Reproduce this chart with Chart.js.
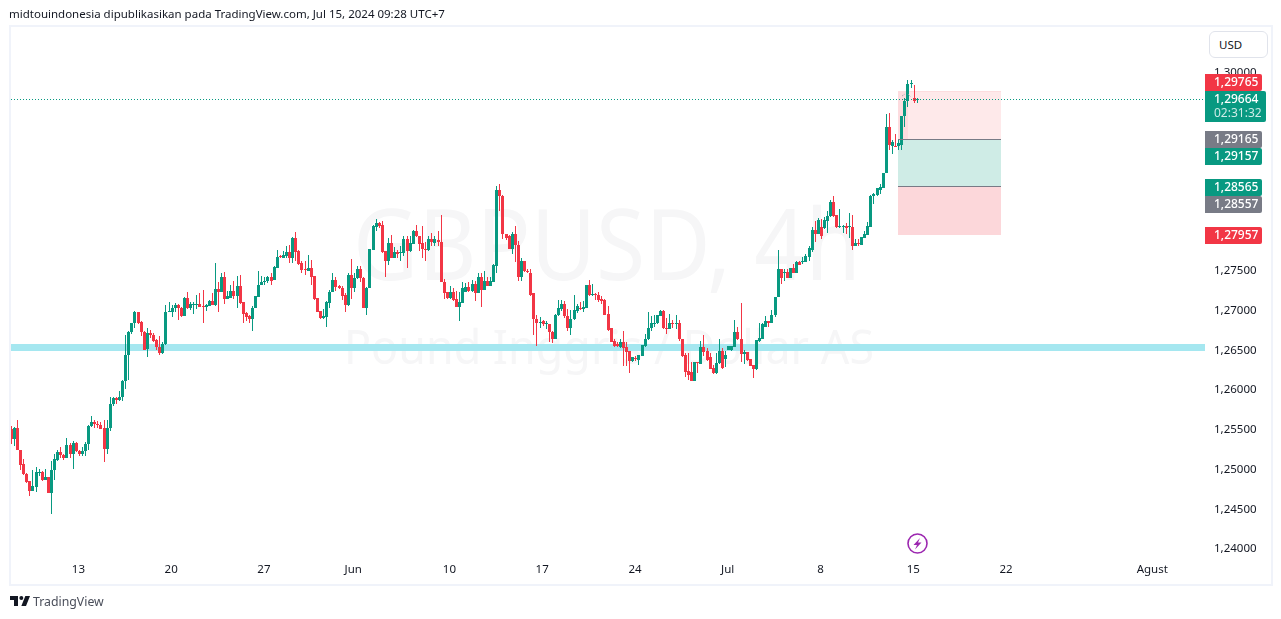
<!DOCTYPE html>
<html>
<head>
<meta charset="utf-8">
<script src="https://cdn.jsdelivr.net/npm/chart.js@4"></script>
<style>
html,body{margin:0;padding:0;background:#fff;width:1281px;height:619px;overflow:hidden;font-family:"Noto Sans",sans-serif;color:#131722}
#frame{position:absolute;left:9px;top:25px;width:1260px;height:557px;border:2px solid #F0F3FA}
#chart{position:absolute;left:0;top:0}
#head{position:absolute;left:9px;top:6px;font-size:11.5px;line-height:16px;white-space:nowrap}
#usd{position:absolute;left:1209px;top:31px;width:48px;padding-left:9px;height:25px;border:1px solid #E0E3EB;border-radius:6px;background:#fff;font-size:11.5px;line-height:25px;text-align:left;box-sizing:content-box}
#logo{position:absolute;left:10px;top:596px}
#brand{position:absolute;left:33px;top:593px;font-size:12.3px;line-height:17px;color:#4A4E5A}
</style>
</head>
<body>
<div id="frame"></div>
<canvas id="chart" width="1281" height="619"></canvas>
<div id="head">midtouindonesia dipublikasikan pada TradingView.com, Jul 15, 2024 09:28 UTC+7</div>
<div id="usd">USD</div>
<svg id="logo" width="20" height="10" viewBox="2 6 30 15"><path fill="#131722" d="M14 6H2v6h6v9h6V6Zm12 15h-7l6-15h7l-6 15Zm-7-9a3 3 0 1 0 0-6 3 3 0 0 0 0 6Z"/></svg>
<div id="brand">TradingView</div>
<script>
const opens = [
1.2551,1.2538,1.2552,1.2525,1.2507,1.2494,1.2485,1.2473,1.2478,1.2496,
1.2497,1.2487,1.2491,1.2471,1.2500,1.2512,1.2522,1.2518,1.2514,1.2531,
1.2520,1.2533,1.2523,1.2519,1.2523,1.2532,1.2555,1.2560,1.2557,1.2556,
1.2552,1.2526,1.2552,1.2583,1.2590,1.2587,1.2591,1.2612,1.2644,1.2673,
1.2684,1.2699,1.2686,1.2673,1.2652,1.2672,1.2670,1.2663,1.2654,1.2647,
1.2658,1.2699,1.2699,1.2703,1.2707,1.2703,1.2693,1.2716,1.2703,1.2708,
1.2708,1.2709,1.2706,1.2705,1.2706,1.2712,1.2707,1.2727,1.2724,1.2742,
1.2715,1.2716,1.2725,1.2718,1.2731,1.2711,1.2697,1.2693,1.2690,1.2703,
1.2717,1.2732,1.2736,1.2737,1.2742,1.2739,1.2754,1.2769,1.2767,1.2769,
1.2774,1.2767,1.2791,1.2775,1.2760,1.2752,1.2750,1.2754,1.2744,1.2716,
1.2700,1.2691,1.2692,1.2710,1.2723,1.2739,1.2731,1.2729,1.2720,1.2707,
1.2745,1.2728,1.2741,1.2753,1.2741,1.2703,1.2729,1.2777,1.2806,1.2811,
1.2808,1.2775,1.2763,1.2785,1.2767,1.2774,1.2773,1.2773,1.2790,1.2775,
1.2784,1.2801,1.2794,1.2785,1.2778,1.2776,1.2790,1.2785,1.2789,1.2787,
1.2736,1.2723,1.2716,1.2723,1.2715,1.2705,1.2710,1.2724,1.2730,1.2725,
1.2734,1.2722,1.2743,1.2726,1.2737,1.2731,1.2736,1.2756,1.2852,1.2845,
1.2796,1.2794,1.2778,1.2797,1.2783,1.2743,1.2762,1.2750,1.2748,1.2722,
1.2690,1.2685,1.2687,1.2683,1.2683,1.2673,1.2665,1.2694,1.2702,1.2709,
1.2693,1.2678,1.2689,1.2700,1.2704,1.2702,1.2704,1.2732,1.2720,1.2721,
1.2720,1.2715,1.2713,1.2696,1.2678,1.2662,1.2658,1.2654,1.2661,1.2654,
1.2649,1.2637,1.2641,1.2638,1.2643,1.2655,1.2664,1.2678,1.2683,1.2684,
1.2693,1.2700,1.2678,1.2677,1.2685,1.2683,1.2685,1.2664,1.2644,1.2624,
1.2623,1.2612,1.2636,1.2633,1.2654,1.2649,1.2642,1.2628,1.2621,1.2634,
1.2649,1.2639,1.2650,1.2650,1.2654,1.2673,1.2664,1.2646,1.2648,1.2639,
1.2632,1.2627,1.2662,1.2665,1.2680,1.2687,1.2685,1.2694,1.2717,1.2753,
1.2747,1.2749,1.2741,1.2754,1.2747,1.2761,1.2761,1.2761,1.2768,1.2777,
1.2802,1.2796,1.2805,1.2804,1.2813,1.2819,1.2837,1.2820,1.2806,1.2806,
1.2807,1.2806,1.2806,1.2781,1.2785,1.2783,1.2792,1.2795,1.2806,1.2844,
1.2846,1.2852,1.2855,1.2873,1.2931,1.2908,1.2908,1.2907,1.2909,1.2945,
1.2964,1.2986,1.2968,1.2965];
const highs = [
1.2555,1.2554,1.2563,1.2525,1.2513,1.2496,1.2486,1.2499,1.2503,1.2501,
1.2498,1.2501,1.2491,1.2511,1.2520,1.2525,1.2528,1.2520,1.2540,1.2533,
1.2536,1.2535,1.2525,1.2528,1.2535,1.2556,1.2567,1.2562,1.2561,1.2560,
1.2562,1.2563,1.2591,1.2591,1.2591,1.2599,1.2613,1.2670,1.2675,1.2684,
1.2700,1.2699,1.2687,1.2675,1.2678,1.2676,1.2672,1.2664,1.2668,1.2660,
1.2707,1.2711,1.2707,1.2710,1.2708,1.2705,1.2717,1.2724,1.2711,1.2711,
1.2720,1.2722,1.2726,1.2708,1.2713,1.2722,1.2760,1.2736,1.2747,1.2749,
1.2725,1.2733,1.2738,1.2744,1.2745,1.2711,1.2699,1.2695,1.2706,1.2719,
1.2750,1.2744,1.2742,1.2744,1.2747,1.2756,1.2777,1.2770,1.2775,1.2781,
1.2783,1.2793,1.2799,1.2777,1.2763,1.2763,1.2770,1.2764,1.2744,1.2716,
1.2700,1.2702,1.2712,1.2726,1.2747,1.2742,1.2733,1.2731,1.2722,1.2748,
1.2765,1.2748,1.2756,1.2756,1.2742,1.2730,1.2778,1.2808,1.2816,1.2812,
1.2813,1.2775,1.2791,1.2795,1.2780,1.2777,1.2782,1.2794,1.2794,1.2794,
1.2802,1.2808,1.2794,1.2807,1.2787,1.2794,1.2798,1.2794,1.2801,1.2821,
1.2740,1.2723,1.2731,1.2728,1.2725,1.2723,1.2736,1.2735,1.2736,1.2739,
1.2738,1.2748,1.2748,1.2750,1.2742,1.2742,1.2759,1.2857,1.2860,1.2846,
1.2797,1.2795,1.2799,1.2807,1.2788,1.2767,1.2762,1.2752,1.2752,1.2722,
1.2695,1.2692,1.2688,1.2687,1.2683,1.2675,1.2696,1.2714,1.2714,1.2712,
1.2702,1.2701,1.2720,1.2708,1.2711,1.2712,1.2732,1.2739,1.2734,1.2722,
1.2724,1.2719,1.2715,1.2706,1.2678,1.2664,1.2660,1.2664,1.2675,1.2660,
1.2649,1.2642,1.2643,1.2644,1.2657,1.2671,1.2698,1.2693,1.2694,1.2695,
1.2701,1.2701,1.2691,1.2696,1.2688,1.2694,1.2688,1.2664,1.2647,1.2647,
1.2635,1.2636,1.2636,1.2662,1.2670,1.2653,1.2647,1.2632,1.2647,1.2664,
1.2653,1.2649,1.2656,1.2656,1.2688,1.2680,1.2710,1.2651,1.2648,1.2639,
1.2632,1.2663,1.2685,1.2685,1.2693,1.2687,1.2701,1.2717,1.2777,1.2753,
1.2752,1.2752,1.2754,1.2759,1.2763,1.2763,1.2768,1.2771,1.2781,1.2805,
1.2813,1.2817,1.2815,1.2818,1.2826,1.2839,1.2845,1.2821,1.2828,1.2808,
1.2811,1.2823,1.2821,1.2790,1.2790,1.2793,1.2800,1.2812,1.2846,1.2848,
1.2855,1.2860,1.2874,1.2948,1.2949,1.2915,1.2923,1.2915,1.2945,1.2968,
1.2990,1.2990,1.2984,1.2968];
const lows = [
1.2532,1.2529,1.2525,1.2499,1.2493,1.2483,1.2467,1.2473,1.2472,1.2492,
1.2486,1.2487,1.2470,1.2444,1.2487,1.2511,1.2515,1.2512,1.2514,1.2514,
1.2501,1.2522,1.2517,1.2517,1.2517,1.2525,1.2554,1.2552,1.2552,1.2551,
1.2509,1.2519,1.2548,1.2580,1.2582,1.2586,1.2586,1.2602,1.2613,1.2671,
1.2678,1.2683,1.2668,1.2651,1.2642,1.2666,1.2661,1.2651,1.2644,1.2645,
1.2657,1.2699,1.2692,1.2699,1.2688,1.2692,1.2693,1.2702,1.2701,1.2696,
1.2702,1.2705,1.2685,1.2700,1.2706,1.2707,1.2706,1.2698,1.2724,1.2709,
1.2715,1.2716,1.2715,1.2704,1.2709,1.2684,1.2687,1.2684,1.2674,1.2703,
1.2717,1.2732,1.2733,1.2735,1.2732,1.2739,1.2754,1.2767,1.2766,1.2766,
1.2760,1.2760,1.2762,1.2758,1.2748,1.2745,1.2750,1.2733,1.2714,1.2698,
1.2689,1.2690,1.2679,1.2703,1.2723,1.2725,1.2727,1.2714,1.2699,1.2706,
1.2715,1.2723,1.2740,1.2736,1.2703,1.2694,1.2729,1.2777,1.2801,1.2804,
1.2773,1.2742,1.2758,1.2766,1.2767,1.2767,1.2762,1.2769,1.2754,1.2774,
1.2784,1.2793,1.2775,1.2766,1.2762,1.2775,1.2782,1.2782,1.2781,1.2736,
1.2715,1.2715,1.2715,1.2712,1.2705,1.2687,1.2710,1.2723,1.2723,1.2724,
1.2712,1.2722,1.2705,1.2726,1.2731,1.2731,1.2736,1.2748,1.2825,1.2790,
1.2789,1.2778,1.2772,1.2761,1.2738,1.2738,1.2749,1.2747,1.2719,1.2669,
1.2656,1.2678,1.2681,1.2677,1.2660,1.2659,1.2664,1.2693,1.2700,1.2691,
1.2674,1.2669,1.2688,1.2697,1.2701,1.2698,1.2704,1.2719,1.2719,1.2713,
1.2711,1.2709,1.2694,1.2675,1.2660,1.2654,1.2654,1.2653,1.2631,1.2631,
1.2621,1.2635,1.2637,1.2632,1.2643,1.2654,1.2663,1.2675,1.2679,1.2683,
1.2693,1.2677,1.2671,1.2677,1.2678,1.2677,1.2662,1.2642,1.2617,1.2613,
1.2612,1.2612,1.2622,1.2633,1.2643,1.2637,1.2626,1.2620,1.2620,1.2633,
1.2627,1.2629,1.2650,1.2649,1.2654,1.2663,1.2636,1.2633,1.2637,1.2630,
1.2615,1.2625,1.2661,1.2665,1.2679,1.2680,1.2684,1.2692,1.2717,1.2734,
1.2738,1.2741,1.2741,1.2747,1.2747,1.2757,1.2759,1.2761,1.2762,1.2774,
1.2786,1.2796,1.2790,1.2803,1.2798,1.2818,1.2818,1.2804,1.2804,1.2798,
1.2796,1.2792,1.2777,1.2781,1.2782,1.2783,1.2792,1.2795,1.2806,1.2834,
1.2845,1.2847,1.2854,1.2873,1.2903,1.2897,1.2907,1.2902,1.2902,1.2931,
1.2957,1.2981,1.2961,1.2962];
const closes = [
1.2538,1.2552,1.2525,1.2506,1.2494,1.2484,1.2473,1.2479,1.2497,1.2497,
1.2487,1.2491,1.2471,1.2500,1.2513,1.2522,1.2518,1.2514,1.2531,1.2520,
1.2533,1.2523,1.2519,1.2523,1.2532,1.2555,1.2560,1.2557,1.2556,1.2551,
1.2526,1.2552,1.2583,1.2590,1.2587,1.2591,1.2612,1.2644,1.2673,1.2684,
1.2699,1.2684,1.2673,1.2651,1.2672,1.2669,1.2662,1.2654,1.2647,1.2658,
1.2699,1.2700,1.2703,1.2707,1.2703,1.2693,1.2716,1.2703,1.2708,1.2708,
1.2709,1.2705,1.2705,1.2707,1.2712,1.2707,1.2727,1.2724,1.2742,1.2715,
1.2718,1.2725,1.2718,1.2731,1.2710,1.2696,1.2692,1.2690,1.2703,1.2718,
1.2732,1.2736,1.2737,1.2742,1.2738,1.2755,1.2768,1.2768,1.2770,1.2774,
1.2767,1.2791,1.2774,1.2759,1.2751,1.2751,1.2754,1.2743,1.2715,1.2699,
1.2691,1.2693,1.2711,1.2724,1.2739,1.2730,1.2728,1.2719,1.2707,1.2745,
1.2728,1.2741,1.2753,1.2741,1.2703,1.2729,1.2778,1.2807,1.2811,1.2807,
1.2774,1.2763,1.2785,1.2767,1.2774,1.2772,1.2774,1.2790,1.2775,1.2785,
1.2801,1.2794,1.2784,1.2778,1.2777,1.2790,1.2786,1.2790,1.2787,1.2736,
1.2722,1.2716,1.2723,1.2714,1.2705,1.2711,1.2728,1.2730,1.2725,1.2734,
1.2722,1.2743,1.2726,1.2737,1.2731,1.2737,1.2757,1.2852,1.2844,1.2796,
1.2791,1.2778,1.2797,1.2783,1.2743,1.2762,1.2750,1.2749,1.2720,1.2689,
1.2684,1.2686,1.2683,1.2684,1.2673,1.2665,1.2695,1.2703,1.2709,1.2693,
1.2678,1.2690,1.2701,1.2706,1.2702,1.2705,1.2732,1.2720,1.2721,1.2720,
1.2714,1.2712,1.2695,1.2676,1.2661,1.2655,1.2655,1.2661,1.2653,1.2648,
1.2637,1.2642,1.2639,1.2644,1.2657,1.2664,1.2678,1.2685,1.2685,1.2694,
1.2700,1.2678,1.2677,1.2685,1.2683,1.2685,1.2664,1.2643,1.2623,1.2619,
1.2612,1.2636,1.2635,1.2654,1.2648,1.2638,1.2627,1.2621,1.2634,1.2649,
1.2628,1.2644,1.2656,1.2655,1.2673,1.2664,1.2646,1.2648,1.2638,1.2630,
1.2627,1.2663,1.2666,1.2683,1.2687,1.2685,1.2695,1.2717,1.2753,1.2741,
1.2749,1.2741,1.2754,1.2748,1.2761,1.2757,1.2763,1.2769,1.2779,1.2802,
1.2796,1.2814,1.2794,1.2814,1.2819,1.2837,1.2819,1.2805,1.2807,1.2807,
1.2804,1.2807,1.2781,1.2785,1.2784,1.2793,1.2796,1.2807,1.2845,1.2847,
1.2854,1.2856,1.2874,1.2931,1.2909,1.2913,1.2907,1.2911,1.2945,1.2964,
1.2986,1.2987,1.2964,1.2966];

const priceTicks = [1.24,1.245,1.25,1.255,1.26,1.265,1.27,1.275,1.28,1.285,1.29,1.295,1.30];
const dateTickBars = [21.7,51.7,81.7,110.6,141.7,171.7,201.7,231.7,261.7,291.7,321.7,369];
const dateTickLabels = ['13','20','27','Jun','10','17','24','Jul','8','15','22','Agust'];
const positionPrices = [1.29765,1.29165,1.28565,1.27957];
const positionBars = [286.8,320.1];
const bandPrices = [1.26587,1.26492];
const lastPrice = 1.29664;
const tagTexts = ['1,29765','1,29664','1,29165','1,29157','1,28565','1,28557','1,27957'];
const countdown = '02:31:32';

const GREEN='#089981', RED='#F23645', GREY='#787B86';
const barColors = closes.map((c,i)=> c>=opens[i] ? GREEN : RED);
const FONT='"Noto Sans", sans-serif';

const background = {
  id:'background',
  beforeDatasetsDraw(chart){
    const {ctx,chartArea:a,scales:{x,y}} = chart;
    ctx.save();
    ctx.beginPath();ctx.rect(a.left,a.top,a.right-a.left,a.bottom-a.top+28);ctx.clip();
    ctx.fillStyle='#F6F6F7';
    ctx.textAlign='center';ctx.textBaseline='alphabetic';
    const stretched=(txt,cx,by,size,sx)=>{
      ctx.save();ctx.translate(cx,by);ctx.scale(sx,1);
      ctx.font=size+'px '+FONT;ctx.fillText(txt,0,0);ctx.restore();
    };
    stretched('GBPUSD, 4h',607,280,99.5,0.9);
    stretched('Pound Inggris / Dollar AS',609,364,48,0.934);
    // band
    ctx.fillStyle='#A5E7F0';
    const b0=Math.round(y.getPixelForValue(bandPrices[0])), b1=Math.round(y.getPixelForValue(bandPrices[1]));
    ctx.fillRect(a.left,b0,a.right-a.left,b1-b0);
    // position tool
    const xl=Math.round(x.getPixelForValue(positionBars[0])), xr=Math.round(x.getPixelForValue(positionBars[1]));
    const py=positionPrices.map(p=>Math.round(y.getPixelForValue(p)));
    ctx.fillStyle='#FEE9EA';ctx.fillRect(xl,py[0],xr-xl,py[1]-py[0]);
    ctx.fillStyle='#FDDCDF';ctx.fillRect(xl,py[0],10,py[1]-py[0]);
    ctx.fillStyle='#FCDDDF';ctx.fillRect(xl,py[0],xr-xl,1);
    ctx.fillStyle='#CFECE6';ctx.fillRect(xl,py[1],xr-xl,py[2]-py[1]);
    ctx.fillStyle='#FCD7DA';ctx.fillRect(xl,py[2],xr-xl,py[3]-py[2]);
    ctx.restore();
  }
};
const snapper = {
  id:'snapper',
  beforeDatasetsDraw(chart){
    chart.data.datasets.forEach((d,di)=>{
      chart.getDatasetMeta(di).data.forEach(el=>{
        el.x=Math.floor(el.x)+0.5;
        el.width=d.label==='wick'?1:3;
        const t=Math.round(Math.min(el.y,el.base));
        const b=Math.round(Math.max(el.y,el.base));
        el.y=t; el.base=Math.max(b,t+1);
        el.height=el.base-el.y;
      });
    });
  }
};
const overlay = {
  id:'overlay',
  afterDraw(chart){
    const {ctx,chartArea:a,scales:{x,y}} = chart;
    ctx.save();
    const xl=Math.round(x.getPixelForValue(positionBars[0])), xr=Math.round(x.getPixelForValue(positionBars[1]));
    ctx.fillStyle='#787B86';
    [1,2].forEach(i=>ctx.fillRect(xl,Math.round(y.getPixelForValue(positionPrices[i])),xr-xl,1));
    ctx.strokeStyle='#9A9CA5';ctx.setLineDash([1,1]);ctx.lineWidth=1;
    ctx.beginPath();ctx.moveTo(902,96);ctx.lineTo(905,94);ctx.moveTo(908,94);ctx.lineTo(911,97);ctx.stroke();
    const ly=Math.floor(y.getPixelForValue(lastPrice))+0.5;
    ctx.strokeStyle=GREEN;ctx.setLineDash([1,2]);
    ctx.beginPath();ctx.moveTo(a.left,ly);ctx.lineTo(a.right,ly);ctx.stroke();
    ctx.setLineDash([]);
    ctx.strokeStyle='#9C27B0';ctx.lineWidth=1.6;
    ctx.beginPath();ctx.arc(917.5,543.5,9.5,0,Math.PI*2);ctx.stroke();
    ctx.fillStyle='#9C27B0';
    ctx.beginPath();
    [[920,538],[913.5,545],[917,545],[915,549.5],[921.5,542.5],[918,542.5]].forEach((p,i)=>i?ctx.lineTo(p[0],p[1]):ctx.moveTo(p[0],p[1]));
    ctx.closePath();ctx.fill();
    const tag=(top,h,w,col,txt)=>{
      ctx.fillStyle=col;
      ctx.beginPath();ctx.roundRect(1205,top,w,h,[0,2,2,0]);ctx.fill();
      ctx.fillStyle='#fff';ctx.font='500 12px '+FONT;ctx.textAlign='left';ctx.textBaseline='middle';
      ctx.fillText(txt,1214,top+8.5);
    };
    tag(74,17,57,RED,tagTexts[0]);
    tag(91,31,61,GREEN,tagTexts[1]);
    ctx.fillStyle='#CDEBE6';ctx.font='12px '+FONT;ctx.textAlign='left';ctx.textBaseline='middle';
    ctx.fillText(countdown,1214,113.5);
    tag(131,17,57,GREY,tagTexts[2]);
    tag(148,17,57,GREEN,tagTexts[3]);
    tag(179,17,57,GREEN,tagTexts[4]);
    tag(196,17,57,GREY,tagTexts[5]);
    tag(227,17,57,RED,tagTexts[6]);
    ctx.restore();
  }
};

new Chart(document.getElementById('chart'),{
  type:'bar',
  data:{datasets:[
    {label:'wick',data:closes.map((c,i)=>({x:i,y:[lows[i],highs[i]]})),backgroundColor:barColors,maxBarThickness:1,grouped:false,order:2,inflateAmount:0,borderWidth:0},
    {label:'body',data:closes.map((c,i)=>({x:i,y:[opens[i],c]})),backgroundColor:barColors,maxBarThickness:3,barPercentage:1,grouped:false,order:1,inflateAmount:0,borderWidth:0}
  ]},
  plugins:[background,snapper,overlay],
  options:{
    responsive:false,animation:false,events:[],
    layout:{padding:{left:11,top:27,right:0,bottom:0}},
    plugins:{legend:{display:false},tooltip:{enabled:false}},
    scales:{
      x:{type:'linear',offset:false,min:-0.1,max:386.06,position:'bottom',
        grid:{display:false,drawTicks:false},border:{display:false},
        afterFit(s){s.height=63;},
        afterBuildTicks(s){s.ticks=dateTickBars.map(v=>({value:v}));},
        ticks:{autoSkip:false,maxRotation:0,padding:7,color:'#131722',font:{family:FONT,size:11.5},
          callback(v){return dateTickLabels[dateTickBars.indexOf(v)];}}
      },
      y:{type:'linear',position:'right',min:1.23911,max:1.30573,
        grid:{display:false,drawTicks:false},border:{display:false},
        afterFit(s){s.width=76;},
        afterBuildTicks(s){s.ticks=priceTicks.map(v=>({value:v}));},
        ticks:{autoSkip:false,padding:9,crossAlign:'near',color:'#131722',font:{family:FONT,size:11.5},
          callback(v){return v.toFixed(5).replace('.',',');}}
      }
    }
  }
});
</script>
</body>
</html>
